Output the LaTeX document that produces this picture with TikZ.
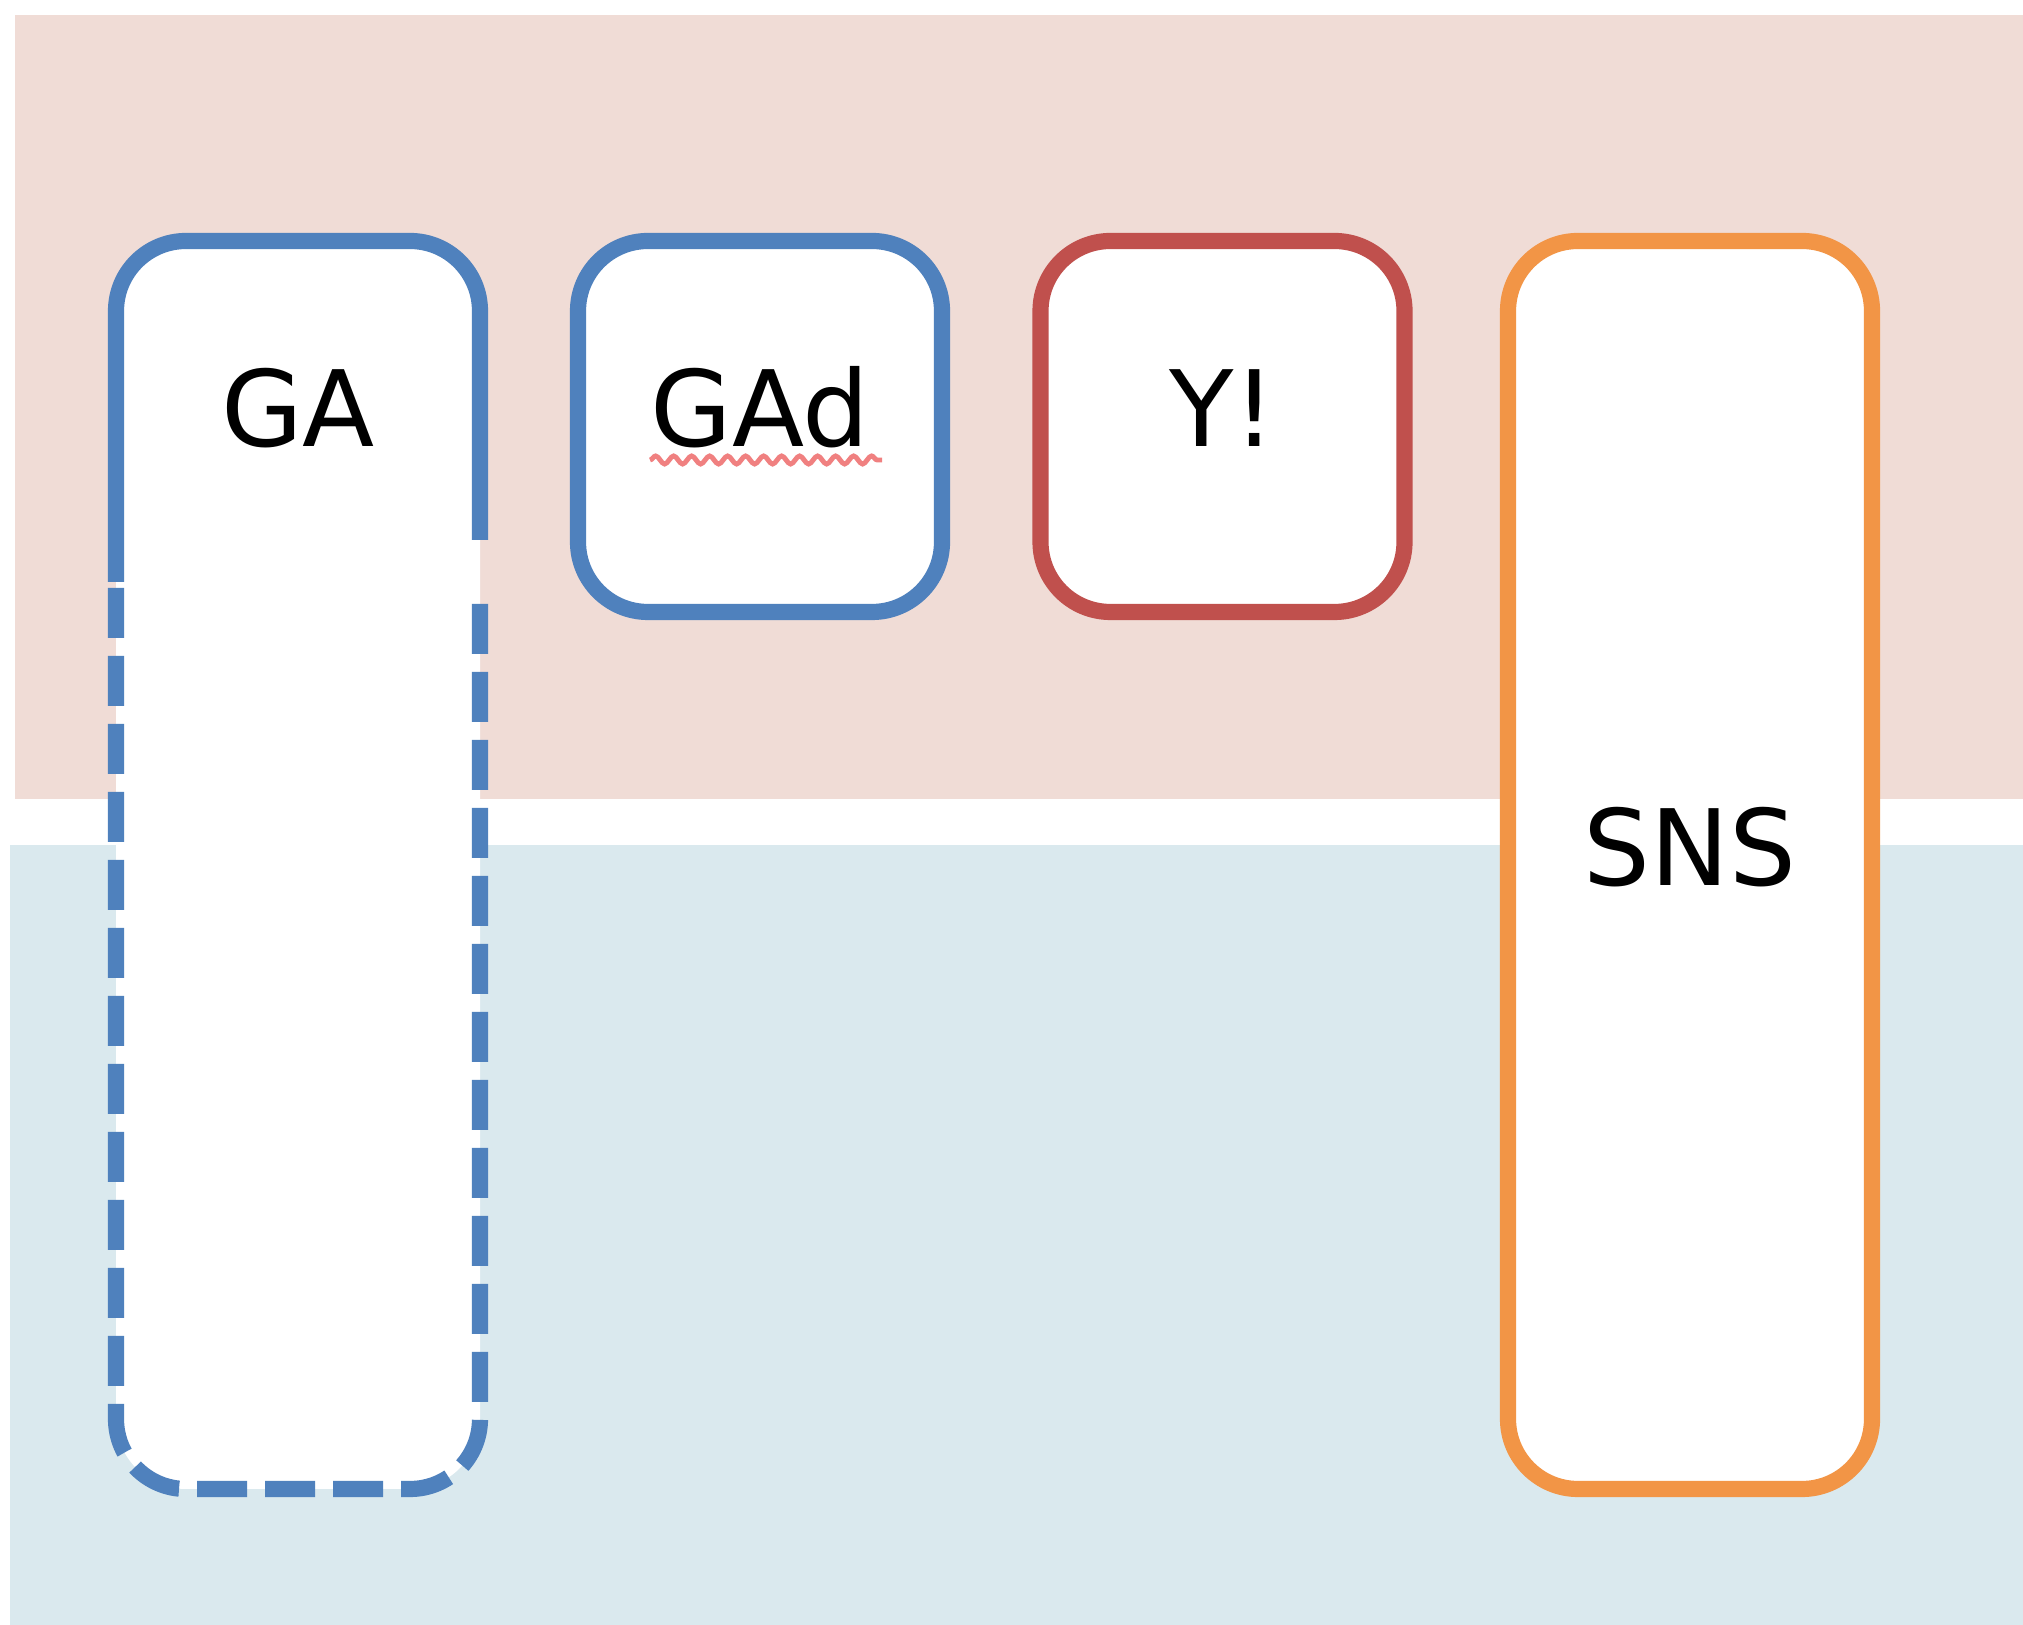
\documentclass[tikz,border=0pt]{standalone}
\usepackage{fontspec}
\setmainfont{DejaVu Sans}
\usepackage{tikz}
\usetikzlibrary{calc,decorations.pathmorphing}
\definecolor{bandpink}{RGB}{240,220,214}
\definecolor{bandblue}{RGB}{218,233,238}
\definecolor{boxblue}{RGB}{79,129,189}
\definecolor{boxred}{RGB}{192,80,77}
\definecolor{boxorange}{RGB}{242,149,70}
\definecolor{spellred}{RGB}{240,128,128}
\tikzset{Box/.style={draw=#1,fill=white,line width=4.6pt,rounded corners=7mm,minimum width=36.4mm,inner sep=0pt,outer sep=0pt,font=\fontsize{30}{36}\selectfont,text height=7.8mm,text depth=3.7mm}}
\tikzset{Lbl/.style={font=\fontsize{30}{36}\selectfont,text height=7.8mm,text depth=3.7mm,inner sep=0pt}}

\begin{document}
\begin{tikzpicture}
            \useasboundingbox (0,0) rectangle (20.23,16.25);
            \fill[bandpink] (0.15,8.26) rectangle (20.23,16.10);
            \fill[bandblue] (0.10,0) rectangle (20.23,7.80);
            \node[Box=none, minimum height=124.8mm] (ga) at (2.98,7.60) {};
            \node[Box=boxblue, minimum height=37.1mm] (gad) at (7.60,11.985) {GAd};
            \node[Box=boxred, minimum height=37.1mm] (yb) at (12.225,11.985) {Y!};
            \node[Box=boxorange, minimum height=124.8mm] (sns) at (16.90,7.60) {SNS};
            \node[Lbl] (galbl) at (ga |- gad) {GA};
            \coordinate (cutl) at (0,10.43);
            \coordinate (dashl) at (0,10.37);
            \coordinate (cutr) at (0,10.85);
            \coordinate (dashr) at (0,10.37);
            \draw[boxblue, line width=4.6pt, rounded corners=7mm] (ga.west |- cutl) -- (ga.north west) -- (ga.north east) -- (ga.east |- cutr);
            \draw[boxblue, line width=4.6pt, rounded corners=7mm, dash pattern=on 5mm off 1.8mm] (ga.west |- dashl) -- (ga.south west) -- (ga.south east) -- (ga.east |- dashr);
            \draw[spellred, line width=1.4pt, decorate, decoration={snake, segment length=1.8mm, amplitude=0.4mm}] ($(gad.center)+(-1.10,-0.335)$) -- ($(gad.center)+(1.22,-0.335)$);
        \end{tikzpicture}
\end{document}
